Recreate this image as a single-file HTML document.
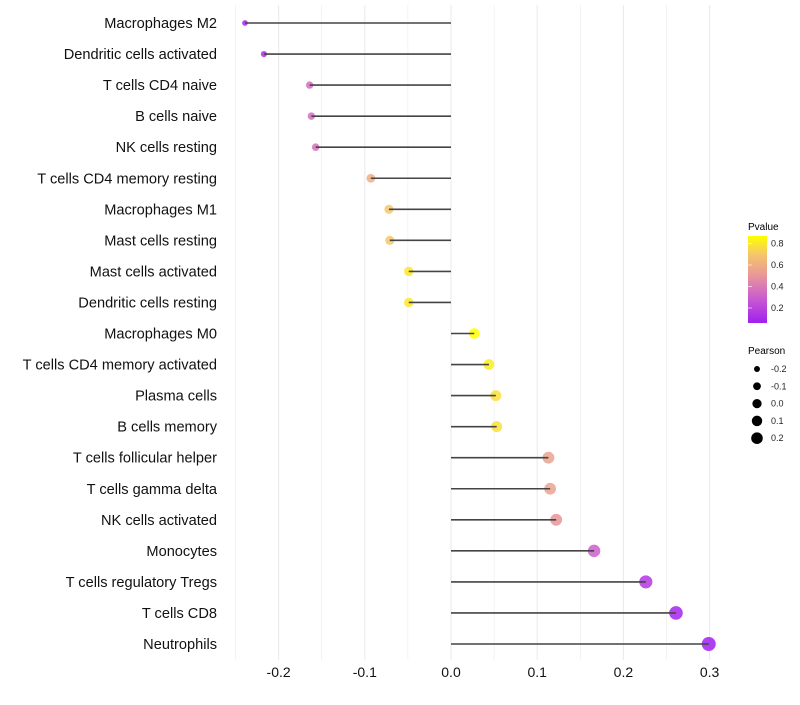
<!DOCTYPE html>
<html><head><meta charset="utf-8"><style>
body{margin:0;background:#fff;}
svg text{font-family:"Liberation Sans",Arial,sans-serif;}
</style></head><body>
<svg id="chart" width="800" height="700" xmlns="http://www.w3.org/2000/svg">
<defs><linearGradient id="pg" x1="0" y1="1" x2="0" y2="0">
<stop offset="0" stop-color="#a020f0"/><stop offset="0.3" stop-color="#cc5fcc"/><stop offset="0.54" stop-color="#e8959a"/><stop offset="0.79" stop-color="#f5c76a"/><stop offset="1" stop-color="#ffff00"/></linearGradient></defs>
<g id="grid"></g><g id="points"></g><g id="marks"></g><g id="ylabels"></g><g id="xlabels"></g>
<g>
<text x="748" y="230" font-size="10">Pvalue</text>
<rect x="748" y="236" width="19" height="87" fill="url(#pg)"/>
<g id="cbticks"></g>
</g>
<g>
<text x="748" y="354" font-size="10">Pearson</text>
<g id="sizelegend"></g>
</g>
</svg>
<script>
const categories=["Macrophages M2","Dendritic cells activated","T cells CD4 naive","B cells naive","NK cells resting","T cells CD4 memory resting","Macrophages M1","Mast cells resting","Mast cells activated","Dendritic cells resting","Macrophages M0","T cells CD4 memory activated","Plasma cells","B cells memory","T cells follicular helper","T cells gamma delta","NK cells activated","Monocytes","T cells regulatory  Tregs ","T cells CD8","Neutrophils"];
const pearson=[-0.239,-0.217,-0.164,-0.162,-0.157,-0.093,-0.072,-0.071,-0.049,-0.049,0.027,0.044,0.052,0.053,0.113,0.115,0.122,0.166,0.226,0.261,0.299];
const pvalues=[0.08,0.12,0.35,0.35,0.37,0.6,0.7,0.7,0.8,0.8,0.87,0.82,0.78,0.78,0.55,0.55,0.5,0.3,0.15,0.08,0.06];
const xTicks=[-0.2,-0.1,0.0,0.1,0.2,0.3];
const xTickLabels=["-0.2","-0.1","0.0","0.1","0.2","0.3"];
const cbTicks=[0.2,0.4,0.6,0.8];
const sizeLegend=[-0.2,-0.1,0.0,0.1,0.2];

const NS="http://www.w3.org/2000/svg";
const xS=v=>451+v*862;
const yS=i=>23+i*31.05;
const rS=p=>Math.sqrt(Math.max(4,13.7+76*(p+0.164)));
const stops=[[0.06,[160,32,240]],[0.3,[204,95,204]],[0.5,[232,149,154]],[0.7,[245,199,106]],[0.87,[255,255,0]]];
function col(p){
  if(p<=stops[0][0])return `rgb(${stops[0][1]})`;
  for(let i=1;i<stops.length;i++){if(p<=stops[i][0]){const a=stops[i-1],b=stops[i],t=(p-a[0])/(b[0]-a[0]);
    return `rgb(${a[1].map((c,k)=>Math.round(c+(b[1][k]-c)*t)).join(',')})`;}}
  return `rgb(${stops[stops.length-1][1]})`;
}
function mk(tag,attrs,parent){const e=document.createElementNS(NS,tag);for(const k in attrs)e.setAttribute(k,attrs[k]);parent.appendChild(e);return e;}
const grid=document.getElementById('grid'),marks=document.getElementById('marks'),pts=document.getElementById('points'),yl=document.getElementById('ylabels'),xl=document.getElementById('xlabels');
for(let v=-0.25;v<=0.301;v+=0.05){
  const l=mk('line',{x1:xS(v),x2:xS(v),y1:5,y2:660,stroke:'#ebebeb','stroke-width':Math.abs(Math.round(v*20))%2===0?1.1:0.6},grid);
  
  
}
xTicks.forEach((v,i)=>{
  const t=mk('text',{x:xS(v),y:677,'font-size':14,'text-anchor':'middle',fill:'#111'},xl);t.textContent=xTickLabels[i];
  
  
});
categories.forEach((c,i)=>{
  const y=yS(i);
  const t=mk('text',{x:217,y:y+5,'font-size':14.6,'text-anchor':'end',fill:'#111'},yl);t.textContent=c;
  
  
  const p=mk('circle',{cx:xS(pearson[i]),cy:y,r:rS(pearson[i]),fill:col(pvalues[i]),'fill-opacity':0.85},pts);
  
  
  const ln=mk('line',{x1:xS(0),x2:xS(pearson[i]),y1:y,y2:y,stroke:'#444','stroke-width':1.6},marks);
  
  
});
const cb=document.getElementById('cbticks');
cbTicks.forEach(v=>{
  const y=323-(v-0.06)/(0.87-0.06)*87;
  const l=mk('line',{x1:748,x2:752,y1:y,y2:y,stroke:'#fff','stroke-opacity':0.6},cb);
  
  
  const t=mk('text',{x:771,y:y+3,'font-size':9,fill:'#222'},cb);t.textContent=v.toFixed(1);
  
  
});
const sl=document.getElementById('sizelegend');
sizeLegend.forEach((v,i)=>{
  const y=369+i*17.3;
  const c=mk('circle',{cx:757,cy:y,r:rS(v)*0.9,fill:'#000'},sl);
  
  
  const t=mk('text',{x:771,y:y+3,'font-size':9,fill:'#222'},sl);t.textContent=v.toFixed(1);
  
  
});
</script>
</body></html>
